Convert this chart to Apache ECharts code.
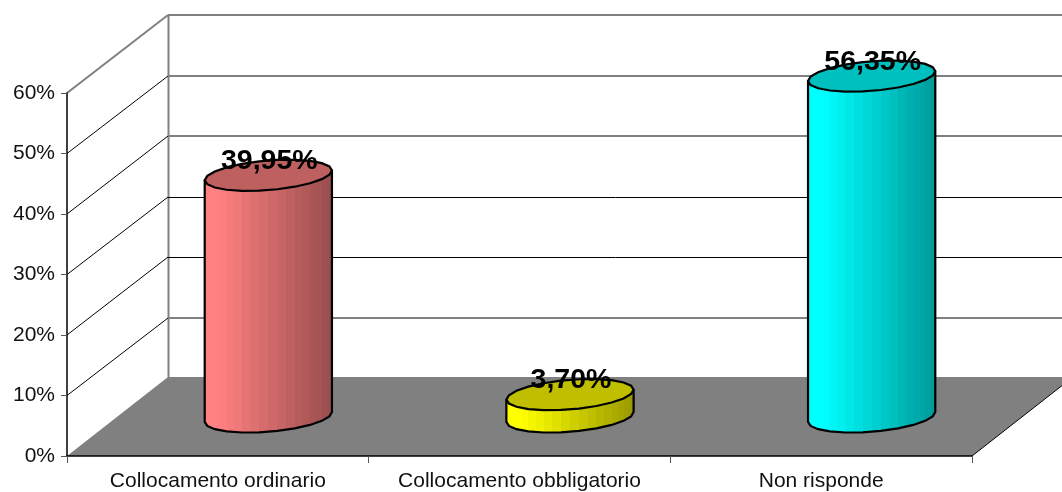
<!DOCTYPE html>
<html>
<head>
<meta charset="utf-8">
<title>Collocamento</title>
<style>
  html, body { margin: 0; padding: 0; background: #fff; }
  #chart { width: 1062px; height: 492px; }
</style>
<script src="https://cdn.jsdelivr.net/npm/echarts@6/dist/echarts.min.js"></script>
</head>
<body>
<div id="chart"></div>
<script>
// dati
var categories = ['Collocamento ordinario', 'Collocamento obbligatorio', 'Non risponde'];
var percentValues = [39.95, 3.70, 56.35];
var yTicks = [0, 10, 20, 30, 40, 50, 60];
// righe del muro di fondo disegnate scure (le altre sono grigie)
var darkBackTicks = [20, 30];

// colori base per categoria
var barColors = [[255, 128, 128], [255, 255, 0], [0, 255, 255]];

// prospettiva finta: spostamento del fondo rispetto al fronte
var depthX = 101;
var depthY = -78;
var GRAY = '#808080';
var FONT = '"Liberation Sans", Arial, sans-serif';

function shade(rgb, k) {
  return 'rgb(' + rgb.map(function (c) { return Math.round(c * k); }).join(',') + ')';
}

function line(x1, y1, x2, y2, color, width) {
  return {
    type: 'line',
    shape: { x1: x1, y1: y1, x2: x2, y2: y2 },
    style: { stroke: color, lineWidth: width }
  };
}

// muri, pavimento e griglia
function renderWalls(params, api) {
  var tick = api.value(0);
  var rect = params.coordSys;
  var y = api.coord([0, tick])[1];
  var left = rect.x;
  var right = rect.x + rect.width;
  var backY = Math.round(y + depthY);
  var isDark = darkBackTicks.indexOf(tick) >= 0;
  var children = [];
  if (tick === 0) {
    var floorY = backY - 1;
    children.push({
      type: 'polygon',
      shape: { points: [[left, y], [right, y], [right + depthX, floorY], [left + depthX, floorY]] },
      style: { fill: GRAY }
    });
    children.push(line(right, y, right + depthX, floorY, '#000', 1));
    // montante del muro di fondo
    var topY = Math.round(api.coord([0, yTicks[yTicks.length - 1]])[1] + depthY);
    children.push(line(left + depthX + 0.5, topY, left + depthX + 0.5, floorY, GRAY, 2));
  } else {
    var isTop = tick === yTicks[yTicks.length - 1];
    children.push(line(left, y, left + depthX, backY, isTop ? GRAY : '#000', isTop ? 2 : 1));
    if (isDark) {
      children.push(line(left + depthX, backY + 0.5, right + depthX, backY + 0.5, '#000', 1));
    } else {
      children.push(line(left + depthX, backY, right + depthX, backY, GRAY, 2));
    }
  }
  return { type: 'group', children: children };
}

// cilindro: ellisse inclinata lungo la profondita
function renderCylinder(params, api) {
  var idx = api.value(0);
  var val = api.value(1);
  var band = api.size([1, 0])[0];
  var topPt = api.coord([idx, val]);
  var basePt = api.coord([idx, 0]);
  var cx = topPt[0] + depthX / 2;
  var topY = topPt[1] + depthY / 2;
  var baseY = basePt[1] + depthY / 2;
  var a = band * 0.2;
  var b = depthX * 0.2;
  var c = -depthY * 0.2;
  var rgb = barColors[idx];
  var radius = Math.sqrt(a * a + b * b);
  var tRight = Math.atan2(b, a);

  function pt(t, cy) {
    return [cx + a * Math.cos(t) + b * Math.sin(t), cy - c * Math.sin(t)];
  }
  function snapX(p) {
    return [Math.round(p[0]), p[1]];
  }

  var children = [];
  var strips = 22;
  var front = [];
  for (var i = 0; i < strips; i++) {
    var t1 = tRight - Math.PI + Math.PI * i / strips;
    var t2 = tRight - Math.PI + Math.PI * (i + 1) / strips;
    var p1 = pt(t1, baseY);
    var p2 = pt(t2, baseY);
    var frac = ((p1[0] + p2[0]) / 2 - cx + radius) / (2 * radius);
    var k = frac < 0.12 ? 1 : 1 - (frac - 0.12) / 0.88 * 0.4;
    children.push({
      type: 'polygon',
      shape: { points: [snapX(p1), snapX(p2), snapX(pt(t2, topY)), snapX(pt(t1, topY))] },
      style: { fill: shade(rgb, k) }
    });
    // contorno a faccette, un punto ogni due strisce
    if (i % 2 === 0) front.push(p1);
    if (i === strips - 1) front.push(p2);
  }
  // contorno del fianco
  var outline = [pt(tRight - Math.PI, topY)].concat(front, [pt(tRight, topY)]);
  children.push({
    type: 'polyline',
    shape: { points: outline },
    style: { stroke: '#000', lineWidth: 2.2, fill: null }
  });
  // faccia superiore
  var ring = [];
  for (var j = 0; j < 22; j++) {
    ring.push(pt(tRight + Math.PI * 2 * j / 22, topY));
  }
  children.push({
    type: 'polygon',
    shape: { points: ring },
    style: { fill: shade(rgb, 0.75), stroke: '#000', lineWidth: 2.2 }
  });
  children.push({
    type: 'text',
    style: {
      text: val.toFixed(2).replace('.', ',') + '%',
      x: cx + 1,
      y: topY - 14,
      align: 'center',
      verticalAlign: 'middle',
      fill: '#000',
      font: 'bold 28.5px ' + FONT
    }
  });
  return { type: 'group', children: children };
}

var option = {
  backgroundColor: '#fff',
  animation: false,
  grid: { left: 67, right: 90, top: 93, bottom: 36 },
  xAxis: {
    type: 'category',
    data: categories,
    z: 4,
    axisLine: { lineStyle: { color: '#000', width: 1.5 } },
    axisTick: { show: true, length: 7, lineStyle: { color: '#555' } },
    axisLabel: { color: '#111', fontFamily: FONT, fontSize: 21, margin: 15, interval: 0 }
  },
  yAxis: {
    type: 'value',
    min: 0,
    max: 60,
    interval: 10,
    z: 4,
    splitLine: { show: false },
    axisLine: { show: true, lineStyle: { color: '#000', width: 1.5 } },
    axisTick: { show: true, length: 6, lineStyle: { color: '#555' } },
    axisLabel: { color: '#111', fontFamily: FONT, fontSize: 21, margin: 12, formatter: '{value}%' }
  },
  series: [
    {
      type: 'custom',
      name: 'griglia',
      z: 1,
      silent: true,
      clip: false,
      data: yTicks.map(function (t) { return [t]; }),
      encode: { y: 0 },
      renderItem: renderWalls
    },
    {
      type: 'custom',
      name: 'valori',
      z: 5,
      silent: true,
      clip: false,
      data: percentValues.map(function (v, i) { return [i, v]; }),
      encode: { x: 0, y: 1 },
      renderItem: renderCylinder
    }
  ]
};

var myChart = echarts.init(document.getElementById('chart'));
myChart.setOption(option);
</script>
</body>
</html>
